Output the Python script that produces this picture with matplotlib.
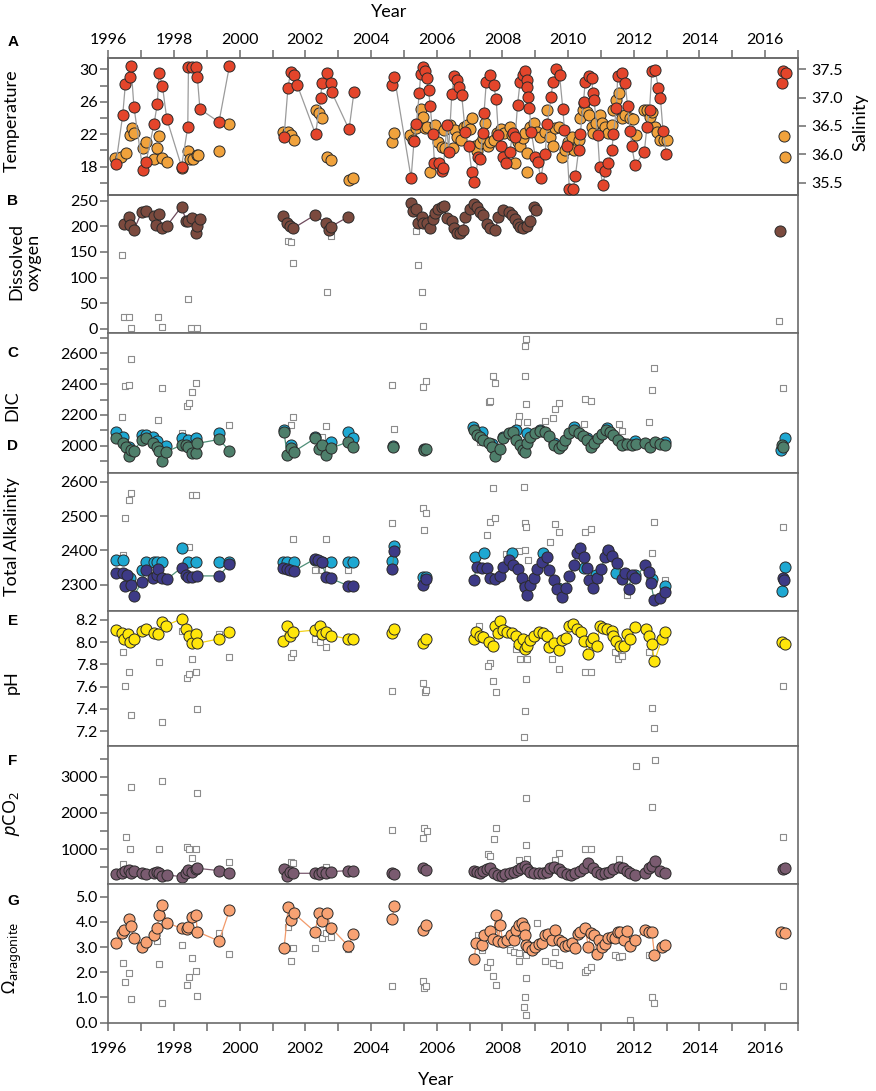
import numpy as np
import matplotlib
matplotlib.use('Agg')
import matplotlib.pyplot as plt
from matplotlib.ticker import MultipleLocator, FormatStrFormatter

plt.rcParams['font.family'] = ['Lato', 'DejaVu Sans']
plt.rcParams['mathtext.fontset'] = 'custom'
plt.rcParams['mathtext.rm'] = 'Noto Sans'
plt.rcParams['mathtext.it'] = 'Noto Sans:italic'

########## DATA (year, value) ##########

temperature = [(1996.23, 18.3), (1996.44, 24.4), (1996.52, 28.2), (1996.66, 29.0), (1996.69, 30.45), (1996.78, 25.4),
               (1997.05, 17.6), (1997.15, 18.6), (1997.39, 23.2), (1997.49, 25.7), (1997.55, 29.5), (1997.65, 27.9),
               (1997.78, 23.9), (1998.23, 18.0), (1998.42, 22.9), (1998.44, 30.25), (1998.54, 30.25), (1998.67, 30.25),
               (1998.71, 29.1), (1998.79, 25.1), (1999.37, 23.5), (1999.69, 30.45), (2001.35, 21.6), (2001.47, 27.7),
               (2001.55, 29.7), (2001.65, 29.3), (2001.75, 28.1), (2002.31, 22.0), (2002.47, 26.5), (2002.50, 28.3),
               (2002.67, 29.5), (2002.77, 28.3), (2002.80, 27.2), (2003.33, 22.6), (2003.48, 27.2), (2004.65, 28.1),
               (2004.71, 29.1), (2005.22, 16.6), (2005.31, 21.2), (2005.38, 23.3), (2005.47, 27.1), (2005.51, 29.4),
               (2005.57, 30.3), (2005.64, 29.8), (2005.70, 28.9), (2005.75, 27.5), (2005.80, 25.5), (2005.88, 22.0),
               (2005.93, 18.5), (2006.08, 18.5), (2006.15, 17.5), (2006.20, 17.8), (2006.31, 23.1), (2006.36, 19.8),
               (2006.46, 27.0), (2006.54, 29.2), (2006.61, 28.7), (2006.69, 27.8), (2006.76, 26.8), (2006.87, 22.3),
               (2006.97, 20.5), (2007.07, 17.3), (2007.15, 16.1), (2007.27, 19.2), (2007.32, 19.0), (2007.40, 22.1),
               (2007.44, 24.6), (2007.51, 28.5), (2007.61, 29.3), (2007.73, 28.1), (2007.81, 26.3), (2007.88, 21.9),
               (2007.95, 20.5), (2008.03, 19.2), (2008.11, 18.5), (2008.22, 19.8), (2008.32, 22.1), (2008.39, 21.7),
               (2008.46, 25.6), (2008.54, 28.5), (2008.62, 29.3), (2008.69, 29.8), (2008.74, 28.7), (2008.76, 27.8),
               (2008.79, 26.6), (2008.82, 25.2), (2008.88, 22.3), (2009.00, 19.2), (2009.07, 18.6), (2009.17, 16.6),
               (2009.30, 19.6), (2009.37, 23.3), (2009.48, 26.6), (2009.54, 28.5), (2009.64, 30.0), (2009.74, 29.3),
               (2009.84, 25.1), (2009.89, 22.5), (2009.96, 20.5), (2010.04, 15.2), (2010.15, 15.2), (2010.22, 16.8),
               (2010.32, 20.0), (2010.37, 22.0), (2010.47, 26.0), (2010.52, 28.5), (2010.65, 29.2), (2010.72, 28.9),
               (2010.75, 27.1), (2010.79, 26.2), (2010.90, 21.9), (2010.96, 18.0), (2011.06, 15.7), (2011.13, 17.4),
               (2011.23, 18.4), (2011.33, 20.0), (2011.38, 22.0), (2011.47, 25.2), (2011.51, 29.2), (2011.64, 29.5),
               (2011.74, 28.3), (2011.81, 25.5), (2011.89, 22.4), (2011.94, 20.5), (2012.04, 18.2), (2012.32, 19.8),
               (2012.40, 22.9), (2012.48, 25.0), (2012.55, 29.8), (2012.65, 29.9), (2012.75, 27.7), (2012.81, 26.5),
               (2012.89, 22.4), (2012.99, 19.6), (2016.51, 28.3), (2016.54, 29.8), (2016.64, 29.6)]

salinity = [(1996.20, 35.93), (1996.40, 35.96), (1996.53, 36.03), (1996.66, 36.34), (1996.71, 36.46), (1996.79, 36.38),
            (1997.05, 36.11), (1997.15, 36.22), (1997.39, 35.91), (1997.49, 36.11), (1997.55, 36.32), (1997.65, 35.93),
            (1997.78, 35.87), (1998.23, 35.75), (1998.42, 36.05), (1998.49, 35.91), (1998.57, 35.91), (1998.69, 35.99),
            (1998.74, 35.99), (1999.37, 36.06), (1999.69, 36.53), (2001.33, 36.40), (2001.48, 36.40), (2001.55, 36.34),
            (2001.65, 36.25), (2002.31, 36.78), (2002.42, 36.72), (2002.50, 36.64), (2002.67, 35.95), (2002.78, 35.89),
            (2003.33, 35.55), (2003.46, 35.58), (2004.65, 36.22), (2004.71, 36.38), (2005.19, 36.34), (2005.29, 36.25),
            (2005.37, 36.46), (2005.51, 36.80), (2005.57, 36.66), (2005.64, 36.46), (2005.70, 36.48), (2005.80, 35.68),
            (2005.95, 36.52), (2006.05, 36.22), (2006.15, 36.13), (2006.23, 36.43), (2006.26, 36.11), (2006.39, 36.52),
            (2006.51, 36.11), (2006.56, 36.43), (2006.63, 36.31), (2006.73, 36.25), (2006.82, 36.49), (2006.92, 36.52),
            (2007.00, 36.44), (2007.07, 36.64), (2007.17, 36.14), (2007.24, 36.05), (2007.32, 36.19), (2007.40, 36.28),
            (2007.48, 36.56), (2007.55, 36.14), (2007.63, 36.22), (2007.73, 36.26), (2007.83, 36.38), (2007.95, 36.44),
            (2008.05, 36.37), (2008.22, 36.49), (2008.29, 36.34), (2008.39, 35.84), (2008.46, 36.22), (2008.54, 36.14),
            (2008.62, 36.28), (2008.69, 36.38), (2008.74, 36.02), (2008.76, 35.68), (2008.85, 36.49), (2008.97, 36.56),
            (2009.05, 36.40), (2009.15, 36.31), (2009.30, 36.40), (2009.37, 36.79), (2009.45, 36.31), (2009.54, 36.14),
            (2009.61, 36.46), (2009.71, 36.49), (2009.81, 35.96), (2009.91, 36.08), (2010.01, 36.22), (2010.11, 36.31),
            (2010.19, 36.08), (2010.32, 36.25), (2010.37, 36.64), (2010.45, 36.78), (2010.49, 36.90), (2010.57, 36.75),
            (2010.65, 36.69), (2010.72, 36.49), (2010.77, 36.38), (2010.86, 36.55), (2010.96, 36.69), (2011.03, 36.56),
            (2011.13, 36.49), (2011.23, 36.38), (2011.33, 36.52), (2011.38, 36.78), (2011.47, 36.96), (2011.54, 37.09),
            (2011.64, 36.64), (2011.74, 36.69), (2011.87, 36.64), (2011.97, 36.62), (2012.07, 36.34), (2012.30, 36.78),
            (2012.40, 36.79), (2012.48, 36.65), (2012.55, 36.75), (2012.65, 36.49), (2012.72, 36.40), (2012.81, 36.26),
            (2012.91, 36.26), (2013.01, 36.26), (2016.58, 36.33), (2016.61, 35.95)]

oxygen = [(1996.48, 204.5), (1996.64, 217.5), (1996.66, 202.6), (1996.78, 192.9), (1997.02, 228.6), (1997.14, 230.5),
          (1997.39, 220), (1997.45, 202.6), (1997.54, 224), (1997.64, 196), (1997.78, 200.6), (1998.23, 238.3),
          (1998.37, 211), (1998.44, 211), (1998.54, 215.6), (1998.67, 187.7), (1998.71, 200.6), (1998.79, 213.6),
          (2001.33, 220), (2001.43, 207), (2001.53, 200.6), (2001.63, 196), (2002.29, 222), (2002.63, 205.8),
          (2002.72, 192.9), (2002.78, 199.4), (2003.31, 218.8), (2005.21, 246), (2005.27, 230.5), (2005.36, 233),
          (2005.44, 207), (2005.54, 218.8), (2005.59, 205.8), (2005.70, 207), (2005.80, 196), (2005.90, 213.6),
          (2005.95, 225), (2006.05, 233), (2006.15, 237), (2006.21, 239.6), (2006.31, 215.6), (2006.46, 211),
          (2006.53, 196), (2006.61, 186.4), (2006.71, 187.7), (2006.79, 192.9), (2006.87, 217.5), (2007.02, 233),
          (2007.12, 243.5), (2007.22, 237), (2007.32, 228.6), (2007.42, 222), (2007.53, 204.5), (2007.63, 196),
          (2007.78, 192.9), (2007.88, 217.5), (2008.03, 231.8), (2008.19, 228.6), (2008.29, 222), (2008.39, 213.6),
          (2008.46, 204.5), (2008.54, 198), (2008.64, 196), (2008.76, 200.6), (2008.85, 211), (2008.97, 238.3),
          (2009.03, 231.8), (2016.46, 191.6)]
oxygen_sq = [(1996.43, 144), (1996.48, 24), (1996.63, 22.7), (1996.68, 1.3), (1997.52, 22.7), (1997.62, 4.5),
             (1997.39, 203), (1998.44, 57.8), (1998.52, 1.3), (1998.69, 1.3), (2001.48, 172), (2001.55, 169.5),
             (2001.63, 129), (2002.65, 72.7), (2002.77, 181), (2005.36, 191.6), (2005.44, 124.7), (2005.54, 72.7),
             (2005.59, 6.5), (2016.41, 15.6)]

dic = [(1996.22, 2048), (1996.44, 2015), (1996.54, 1994), (1996.64, 1933), (1996.68, 1972), (1996.78, 1968),
       (1997.02, 2037), (1997.14, 2048), (1997.37, 2015), (1997.47, 1994), (1997.55, 1968), (1997.65, 1903),
       (1997.76, 1961), (1998.23, 2004), (1998.37, 2004), (1998.44, 1994), (1998.54, 1955), (1998.67, 1955),
       (1998.71, 2015), (1999.37, 2041), (1999.69, 1968), (2001.35, 2087), (2001.45, 1939), (2001.55, 1983),
       (2001.65, 1961), (2002.29, 2048), (2002.42, 1976), (2002.50, 2004), (2002.63, 1939), (2002.77, 1983),
       (2003.31, 2026), (2003.46, 1989), (2004.66, 1989), (2005.61, 1972), (2005.67, 1976), (2007.12, 2102),
       (2007.22, 2069), (2007.32, 2058), (2007.42, 2037), (2007.58, 2015), (2007.68, 1994), (2007.78, 1933),
       (2007.93, 1976), (2008.03, 2048), (2008.19, 2084), (2008.32, 2091), (2008.42, 2037), (2008.54, 2004),
       (2008.64, 1972), (2008.69, 1961), (2008.76, 2015), (2008.85, 2058), (2009.00, 2084), (2009.15, 2097),
       (2009.30, 2091), (2009.43, 2063), (2009.56, 2004), (2009.71, 1983), (2009.81, 2004), (2009.91, 2037),
       (2010.04, 2080), (2010.17, 2102), (2010.32, 2084), (2010.45, 2063), (2010.57, 2037), (2010.69, 1994),
       (2010.79, 2015), (2010.90, 2048), (2011.03, 2076), (2011.16, 2102), (2011.28, 2091), (2011.38, 2069),
       (2011.51, 2037), (2011.64, 2004), (2011.79, 2011), (2011.94, 2004), (2012.07, 2011), (2012.35, 2015),
       (2012.50, 1994), (2012.65, 2026), (2012.81, 2011), (2012.96, 2004), (2016.51, 2004), (2016.54, 1990)]
dic_cyan = [(1996.22, 2091), (1996.44, 2054), (1996.64, 1994), (1997.02, 2069), (1997.14, 2069), (1997.37, 2054),
            (1997.47, 2032), (1997.76, 1998), (1998.23, 2048), (1998.44, 2037), (1998.67, 2048), (1999.37, 2080),
            (2001.35, 2102), (2001.55, 2004), (2002.29, 2058), (2002.77, 2026), (2003.31, 2091), (2003.46, 2048),
            (2004.66, 2000), (2005.61, 1980), (2007.10, 2123), (2007.37, 2091), (2007.68, 2010), (2008.03, 2060),
            (2008.42, 2102), (2008.74, 2080), (2009.15, 2105), (2009.56, 2020), (2010.17, 2119), (2010.57, 2050),
            (2011.18, 2113), (2011.64, 2015), (2012.04, 2032), (2012.50, 2005), (2012.96, 2026), (2016.61, 2048),
            (2016.48, 1972)]
dic_sq = [(1996.43, 2184), (1996.51, 2388), (1996.64, 2394), (1996.68, 2561), (1997.52, 2167), (1997.62, 2377),
          (1998.23, 2080), (1998.39, 2258), (1998.46, 2275), (1998.54, 2351), (1998.66, 2405), (1999.69, 2134),
          (2001.63, 2184), (2001.55, 2134), (2002.63, 2128), (2002.50, 2060), (2004.64, 2394), (2004.69, 2106),
          (2005.59, 2383), (2005.67, 2422), (2008.72, 2691), (2008.69, 2648), (2007.71, 2453), (2007.78, 2405),
          (2008.69, 2453), (2007.58, 2286), (2007.63, 2290), (2008.71, 2271), (2009.61, 2238), (2009.71, 2275),
          (2008.52, 2193), (2008.46, 2156), (2008.74, 2156), (2009.30, 2162), (2009.54, 2178), (2010.52, 2303),
          (2010.69, 2292), (2012.63, 2507), (2012.55, 2362), (2012.45, 2156), (2010.47, 2139), (2011.54, 2141),
          (2011.64, 2097), (2007.32, 2026), (2016.54, 2373)]

alkalinity = [(1996.22, 2334), (1996.44, 2334), (1996.51, 2298), (1996.56, 2329), (1996.68, 2300), (1996.78, 2269),
              (1997.02, 2308), (1997.14, 2342), (1997.37, 2319), (1997.47, 2329), (1997.52, 2345), (1997.65, 2319),
              (1997.78, 2316), (1998.23, 2350), (1998.37, 2329), (1998.44, 2322), (1998.54, 2322), (1998.69, 2326),
              (1999.37, 2326), (1999.69, 2360), (2001.33, 2348), (2001.43, 2345), (2001.53, 2342), (2001.65, 2341),
              (2002.29, 2375), (2002.40, 2371), (2002.50, 2366), (2002.63, 2324), (2002.77, 2319), (2003.31, 2297),
              (2003.46, 2297), (2004.64, 2345), (2004.71, 2397), (2005.59, 2300), (2005.66, 2316), (2007.12, 2315),
              (2007.22, 2351), (2007.37, 2348), (2007.53, 2348), (2007.63, 2319), (2007.78, 2316), (2007.93, 2326),
              (2008.03, 2351), (2008.19, 2373), (2008.32, 2358), (2008.46, 2345), (2008.59, 2319), (2008.69, 2295),
              (2008.74, 2271), (2008.83, 2300), (2008.95, 2319), (2009.05, 2345), (2009.20, 2365), (2009.35, 2382),
              (2009.43, 2344), (2009.56, 2315), (2009.66, 2287), (2009.81, 2266), (2009.94, 2290), (2010.04, 2326),
              (2010.17, 2358), (2010.27, 2394), (2010.37, 2406), (2010.47, 2380), (2010.57, 2348), (2010.65, 2315),
              (2010.77, 2290), (2010.88, 2319), (2011.00, 2345), (2011.13, 2382), (2011.20, 2402), (2011.33, 2384),
              (2011.49, 2363), (2011.64, 2316), (2011.74, 2334), (2011.84, 2287), (2011.94, 2329), (2012.04, 2319),
              (2012.35, 2358), (2012.45, 2336), (2012.52, 2305), (2012.62, 2256), (2012.81, 2261), (2012.96, 2278),
              (2016.54, 2319), (2016.58, 2313)]
alk_cyan = [(1996.22, 2373), (1996.44, 2373), (1996.66, 2319), (1997.02, 2342), (1997.14, 2365), (1997.39, 2365),
            (1997.47, 2365), (1997.65, 2365), (1998.23, 2406), (1998.44, 2365), (1998.67, 2365), (1999.37, 2365),
            (1999.69, 2365), (2001.33, 2365), (2001.45, 2365), (2001.65, 2365), (2002.29, 2373), (2002.50, 2365),
            (2002.77, 2365), (2003.31, 2365), (2003.46, 2365), (2004.64, 2370), (2004.71, 2413), (2005.59, 2324),
            (2005.66, 2324), (2007.17, 2382), (2007.45, 2394), (2008.29, 2394), (2008.70, 2300), (2009.25, 2392),
            (2009.70, 2290), (2010.49, 2348), (2010.85, 2330), (2011.23, 2397), (2011.47, 2334), (2012.04, 2330),
            (2012.55, 2316), (2012.96, 2297), (2016.61, 2353), (2016.51, 2281)]
alk_sq = [(1996.51, 2494), (1996.64, 2547), (1996.68, 2566), (1996.44, 2387), (1998.54, 2561), (1998.66, 2561),
          (1998.46, 2411), (2001.63, 2433), (2002.63, 2433), (2004.64, 2481), (2005.59, 2523), (2005.67, 2510),
          (2005.62, 2460), (1999.37, 2373), (2002.29, 2342), (2002.50, 2342), (2003.31, 2342), (1997.65, 2365),
          (1997.14, 2365), (2007.71, 2581), (2008.67, 2584), (2007.61, 2484), (2007.78, 2494), (2007.53, 2445),
          (2008.69, 2481), (2008.72, 2469), (2009.61, 2477), (2009.71, 2455), (2009.45, 2426), (2010.52, 2455),
          (2010.69, 2462), (2012.63, 2484), (2012.55, 2392), (2008.69, 2402), (2008.49, 2397), (2008.79, 2373),
          (2012.96, 2315), (2011.79, 2271), (2016.54, 2467), (2008.11, 2390), (2007.17, 2385)]

ph = [(1996.22, 8.11), (1996.41, 8.08), (1996.48, 8.03), (1996.61, 8.07), (1996.66, 8.00), (1996.78, 8.03),
      (1997.02, 8.10), (1997.14, 8.12), (1997.39, 8.08), (1997.52, 8.07), (1997.64, 8.18), (1997.75, 8.15),
      (1998.23, 8.21), (1998.37, 8.12), (1998.47, 8.06), (1998.54, 7.99), (1998.67, 8.07), (1998.71, 7.99),
      (1999.37, 8.03), (1999.69, 8.09), (2001.33, 8.01), (2001.45, 8.15), (2001.53, 8.06), (2001.63, 8.09),
      (2002.29, 8.11), (2002.44, 8.15), (2002.50, 8.07), (2002.63, 8.09), (2002.77, 8.06), (2003.31, 8.03),
      (2003.46, 8.03), (2004.65, 8.08), (2004.71, 8.12), (2005.59, 7.99), (2005.67, 8.03), (2007.12, 8.03),
      (2007.20, 8.09), (2007.32, 8.06), (2007.42, 8.05), (2007.58, 8.00), (2007.71, 7.97), (2007.78, 8.15),
      (2007.88, 8.08), (2007.93, 8.19), (2008.01, 8.11), (2008.14, 8.09), (2008.29, 8.08), (2008.42, 8.06),
      (2008.52, 7.98), (2008.62, 8.03), (2008.69, 7.94), (2008.76, 7.97), (2008.85, 8.02), (2008.97, 8.06),
      (2009.10, 8.09), (2009.25, 8.08), (2009.35, 8.06), (2009.43, 7.96), (2009.56, 7.99), (2009.71, 7.93),
      (2009.81, 8.02), (2009.94, 8.04), (2010.04, 8.15), (2010.15, 8.16), (2010.27, 8.12), (2010.39, 8.09),
      (2010.49, 8.01), (2010.62, 7.89), (2010.69, 8.00), (2010.77, 8.04), (2010.88, 7.97), (2010.96, 8.15),
      (2011.06, 8.13), (2011.18, 8.12), (2011.33, 8.10), (2011.38, 8.06), (2011.47, 8.01), (2011.57, 7.97),
      (2011.69, 7.97), (2011.79, 8.07), (2011.87, 8.03), (2012.04, 8.14), (2012.38, 8.12), (2012.45, 8.06),
      (2012.55, 7.98), (2012.63, 7.83), (2012.86, 8.03), (2012.96, 8.09), (2016.51, 8.00), (2016.61, 7.98)]
ph_sq = [(1996.44, 7.91), (1996.51, 7.61), (1996.64, 7.73), (1996.68, 7.34), (1997.53, 7.82), (1997.62, 7.28),
         (1998.23, 8.10), (1998.39, 7.68), (1998.46, 7.71), (1998.54, 7.85), (1998.66, 7.73), (1998.69, 7.40),
         (1999.37, 8.07), (1999.69, 7.87), (2001.55, 7.87), (2001.63, 7.90), (2002.29, 8.03), (2002.46, 8.00),
         (2002.63, 7.96), (2004.64, 7.56), (2005.59, 7.63), (2005.63, 7.55), (2005.67, 7.57), (2007.30, 8.15),
         (2007.61, 7.81), (2007.55, 7.79), (2007.71, 7.65), (2007.80, 7.55), (2008.54, 7.85), (2008.74, 7.85),
         (2008.71, 7.67), (2008.69, 7.38), (2008.67, 7.15), (2009.51, 7.85), (2009.71, 7.76), (2010.52, 7.73),
         (2010.69, 7.73), (2011.52, 7.85), (2011.64, 7.88), (2012.45, 7.91), (2012.55, 7.41), (2012.63, 7.23),
         (2016.53, 7.61), (2008.42, 7.94), (2009.35, 7.96), (2011.43, 7.91)]

pco2 = [(1996.22, 321), (1996.41, 339), (1996.51, 413), (1996.64, 431), (1996.68, 358), (1996.78, 413),
        (1997.02, 339), (1997.14, 321), (1997.39, 358), (1997.49, 385), (1997.55, 339), (1997.65, 266),
        (1997.78, 294), (1998.23, 248), (1998.37, 339), (1998.44, 431), (1998.54, 385), (1998.67, 450),
        (1998.71, 477), (1999.37, 413), (1999.69, 358), (2001.35, 450), (2001.45, 266), (2001.53, 385),
        (2001.63, 339), (2002.29, 339), (2002.42, 321), (2002.50, 385), (2002.63, 339), (2002.77, 385),
        (2003.31, 413), (2003.46, 413), (2004.64, 358), (2004.69, 321), (2005.59, 477), (2005.67, 431),
        (2007.12, 413), (2007.22, 385), (2007.32, 358), (2007.42, 413), (2007.53, 450), (2007.63, 477),
        (2007.75, 358), (2007.88, 294), (2007.98, 266), (2008.08, 321), (2008.22, 358), (2008.34, 385),
        (2008.46, 431), (2008.56, 477), (2008.69, 541), (2008.76, 450), (2008.85, 385), (2008.97, 358),
        (2009.10, 339), (2009.25, 358), (2009.37, 385), (2009.45, 477), (2009.58, 523), (2009.71, 450),
        (2009.81, 385), (2009.96, 321), (2010.08, 294), (2010.22, 339), (2010.35, 413), (2010.49, 477),
        (2010.62, 615), (2010.77, 477), (2010.88, 385), (2011.00, 321), (2011.13, 339), (2011.26, 385),
        (2011.38, 450), (2011.54, 523), (2011.67, 477), (2011.79, 413), (2011.89, 358), (2012.04, 294),
        (2012.35, 358), (2012.45, 477), (2012.55, 541), (2012.65, 688), (2012.81, 413), (2012.96, 358),
        (2016.54, 450), (2016.61, 477)]
pco2_sq = [(1996.44, 587), (1996.53, 1349), (1996.68, 2725), (1996.66, 1000), (1997.55, 1000), (1997.65, 2881),
           (1998.40, 1055), (1998.47, 1000), (1998.54, 752), (1998.67, 1000), (1998.71, 2541), (1999.69, 661),
           (2001.55, 661), (2001.63, 615), (2002.63, 523), (2004.64, 1532), (2005.59, 1303), (2005.62, 1578),
           (2005.70, 1514), (2012.65, 3459), (2012.06, 3294), (2008.71, 2422), (2012.55, 2174), (2007.81, 1578),
           (2007.73, 1275), (2008.72, 1119), (2007.55, 872), (2007.63, 817), (2009.71, 908), (2010.52, 1000),
           (2010.69, 1000), (2008.52, 706), (2008.76, 725), (2009.61, 706), (2011.54, 725), (2016.54, 1330)]

omega = [(1996.22, 3.15), (1996.41, 3.57), (1996.48, 3.68), (1996.64, 4.10), (1996.68, 3.84), (1996.78, 3.37),
         (1997.02, 3.02), (1997.14, 3.21), (1997.39, 3.48), (1997.49, 3.74), (1997.54, 4.27), (1997.64, 4.67),
         (1997.78, 3.97), (1998.23, 3.74), (1998.39, 3.70), (1998.44, 3.78), (1998.54, 4.21), (1998.67, 4.27),
         (1998.71, 3.61), (1999.37, 3.24), (1999.69, 4.47), (2001.35, 2.95), (2001.48, 4.60), (2001.55, 4.07),
         (2001.65, 4.34), (2002.29, 3.61), (2002.42, 4.37), (2002.50, 4.05), (2002.65, 4.34), (2002.78, 3.77),
         (2003.31, 3.04), (2003.46, 3.52), (2004.64, 4.10), (2004.71, 4.63), (2005.59, 3.68), (2005.67, 3.88),
         (2007.14, 2.51), (2007.20, 3.17), (2007.37, 3.08), (2007.44, 3.48), (2007.61, 3.65), (2007.71, 3.31),
         (2007.80, 4.27), (2007.88, 3.25), (2007.93, 3.88), (2008.01, 3.21), (2008.14, 3.28), (2008.26, 3.48),
         (2008.34, 3.28), (2008.42, 3.68), (2008.52, 3.88), (2008.59, 3.94), (2008.66, 3.81), (2008.69, 3.48),
         (2008.72, 3.08), (2008.79, 3.02), (2008.90, 2.88), (2009.00, 2.99), (2009.10, 3.12), (2009.20, 3.17),
         (2009.30, 3.48), (2009.40, 3.52), (2009.51, 3.28), (2009.61, 3.68), (2009.71, 3.28), (2009.81, 3.21),
         (2009.91, 3.04), (2010.01, 3.08), (2010.11, 3.15), (2010.20, 2.98), (2010.29, 3.52), (2010.37, 3.61),
         (2010.52, 3.74), (2010.62, 2.99), (2010.69, 3.57), (2010.79, 3.48), (2010.88, 2.72), (2010.93, 3.28),
         (2011.03, 2.99), (2011.13, 3.12), (2011.23, 3.35), (2011.33, 3.41), (2011.43, 3.35), (2011.51, 3.61),
         (2011.59, 3.61), (2011.69, 3.28), (2011.79, 3.65), (2011.87, 3.04), (2012.04, 3.28), (2012.35, 3.68),
         (2012.45, 3.61), (2012.55, 3.61), (2012.63, 2.69), (2012.86, 3.02), (2012.96, 3.08), (2016.48, 3.58),
         (2016.61, 3.57)]
omega_sq = [(1996.44, 2.38), (1996.51, 1.63), (1996.64, 1.96), (1996.68, 0.93), (1996.78, 3.40), (1997.49, 3.25),
            (1997.54, 2.33), (1997.62, 0.77), (1998.23, 3.08), (1998.39, 1.49), (1998.46, 1.83), (1998.54, 2.55),
            (1998.66, 2.05), (1998.69, 1.06), (1999.37, 3.57), (1999.69, 2.72), (2001.48, 3.78), (2001.55, 2.46),
            (2001.63, 2.98), (2002.29, 2.95), (2002.50, 3.37), (2002.63, 3.57), (2002.78, 3.41), (2003.31, 2.91),
            (2004.64, 1.47), (2005.57, 1.65), (2005.62, 1.36), (2005.67, 1.46), (2007.27, 3.48), (2007.37, 2.88),
            (2007.53, 2.20), (2007.61, 2.42), (2007.71, 1.85), (2007.80, 1.49), (2008.24, 2.88), (2008.34, 2.82),
            (2008.49, 2.75), (2008.52, 2.46), (2008.72, 2.69), (2008.71, 1.79), (2008.69, 1.03), (2008.67, 0.63),
            (2008.72, 0.30), (2009.05, 3.94), (2009.30, 2.46), (2009.54, 2.38), (2009.71, 2.29), (2009.61, 2.82),
            (2010.52, 2.00), (2010.59, 2.09), (2010.69, 2.20), (2011.43, 2.69), (2011.54, 2.59), (2011.64, 2.65),
            (2011.87, 0.11), (2012.45, 2.69), (2012.55, 1.01), (2012.63, 0.79), (2016.53, 1.46)]

########## HELPERS ##########

W, H = 876, 1091
spine_col = '#6b6b6b'


def rect(top, bottom):
    return [108.3 / W, 1 - bottom / H, (798 - 108.3) / W, (bottom - top) / H]


def circles(ax, pts, face, line=None, z=3):
    x, y = np.array(sorted(pts)).T
    if line is not None:
        cut = np.where(np.diff(x) > 0.7)[0] + 1
        for sx, sy in zip(np.split(x, cut), np.split(y, cut)):
            ax.plot(sx, sy, color=line, lw=0.9, zorder=z)
    ax.scatter(x, y, s=64, c=face, edgecolors='#2a2a2a', linewidths=0.7, zorder=z + 1)


def squares(ax, pts):
    x, y = np.array(pts).T
    ax.scatter(x, y, marker='s', s=24, facecolors='white', edgecolors='#8c8c8c',
               linewidths=0.8, zorder=2)


def style(ax, ylim, major, minor=None, fmt=None):
    for s in ax.spines.values():
        s.set_color(spine_col)
        s.set_linewidth(1.2)
    ax.set_xlim(1996, 2017)
    ax.set_ylim(*ylim)
    ax.xaxis.set_major_locator(MultipleLocator(2))
    ax.xaxis.set_minor_locator(MultipleLocator(1))
    ax.yaxis.set_major_locator(MultipleLocator(major))
    if minor:
        ax.yaxis.set_minor_locator(MultipleLocator(minor))
    if fmt:
        ax.yaxis.set_major_formatter(FormatStrFormatter(fmt))
    ax.tick_params(which='both', direction='out', length=5.5, width=1.1, color=spine_col,
                   labelsize=11.5, pad=2)
    ax.tick_params(axis='y', which='minor', length=5.5)
    ax.tick_params(axis='x', which='both', bottom=False, top=False,
                   labelbottom=False, labeltop=False)


########## FIGURE ##########

fig = plt.figure(figsize=(8.76, 10.91), dpi=100)

panels = [(58, 195), (195, 333.3), (333.3, 472.7), (472.7, 611),
          (611, 745.7), (745.7, 884.3), (884.3, 1022.7)]
axA, axB, axC, axD, axE, axF, axG = [fig.add_axes(rect(t, b)) for t, b in panels]

# A: temperature + salinity
axS = axA.twinx()
axA.set_zorder(axS.get_zorder() + 1)
axA.patch.set_visible(False)
style(axA, (14.5, 31.4), 4, 2)
axA.yaxis.set_major_locator(MultipleLocator(4, offset=2))
axA.tick_params(axis='x', which='both', top=True, labeltop=True, pad=2.6)
circles(axS, salinity, '#f0a23c')
circles(axA, temperature, '#e4452b', line='#9b9b9b')
for s in axS.spines.values():
    s.set_color(spine_col)
    s.set_linewidth(1.2)
axS.set_ylim(35.28, 37.7)
axS.yaxis.set_major_locator(MultipleLocator(0.5))
axS.yaxis.set_major_formatter(FormatStrFormatter('%.1f'))
axS.tick_params(direction='out', length=5.5, width=1.1, color=spine_col, labelsize=11.5, pad=4.3)

# B: dissolved oxygen
style(axB, (-8.4, 261), 50)
squares(axB, oxygen_sq)
circles(axB, oxygen, '#7b4a3e', line='#6e4a5c')

# C: DIC
style(axC, (1825, 2730), 200, 100)
squares(axC, dic_sq)
circles(axC, dic_cyan, '#1ea8d2', z=3)
circles(axC, dic, '#4e7f6b', line='#4f8f78', z=5)

# D: total alkalinity
style(axD, (2224, 2626), 100)
squares(axD, alk_sq)
circles(axD, alk_cyan, '#1ea8d2', z=3)
circles(axD, alkalinity, '#3d3a86', line='#4f8f78', z=5)

# E: pH
style(axE, (7.068, 8.281), 0.2, fmt='%.1f')
squares(axE, ph_sq)
circles(axE, ph, '#ffe60a', line='#f2d21a')

# F: pCO2
style(axF, (36, 3853), 1000, 500)
squares(axF, pco2_sq)
circles(axF, pco2, '#7a5b70', line='#7a5b70')

# G: omega aragonite
style(axG, (0, 5.49), 1.0, fmt='%.1f')
squares(axG, omega_sq)
circles(axG, omega, '#f8a273', line='#f29a6a')
axG.tick_params(axis='x', which='both', bottom=True, labelbottom=True, pad=8.4)

########## TEXT ##########

def fx(px):
    return px / W


def fy(py):
    return 1 - py / H


lab = dict(rotation=90, ha='center', va='center', fontsize=13)
fig.text(fx(12), fy(121), 'Temperature', **lab)
fig.text(fx(25), fy(262), 'Dissolved\noxygen', multialignment='center', linespacing=1.05, **lab)
fig.text(fx(12), fy(406), 'DIC', **lab)
fig.text(fx(12), fy(537), 'Total Alkalinity', **lab)
fig.text(fx(12), fy(682), 'pH', **lab)
fig.text(fx(12), fy(813), r'$\mathit{p}\mathrm{CO}_2$', **lab)
fig.text(fx(12), fy(958), r'$\Omega_{\mathrm{aragonite}}$', **lab)
fig.text(fx(860), fy(122), 'Salinity', **lab)

fig.text(fx(389), fy(12), 'Year', ha='center', va='center', fontsize=13)
fig.text(fx(436), fy(1080), 'Year', ha='center', va='center', fontsize=13)

letters = [('A', 42), ('B', 200.7), ('C', 353), ('D', 446), ('E', 620.7), ('F', 760.7), ('G', 900.7)]
for letter, py in letters:
    fig.text(fx(13), fy(py), letter, ha='center', va='center', fontsize=11,
             fontweight='bold', family='Liberation Sans')

fig.savefig('out.png', dpi=100)
